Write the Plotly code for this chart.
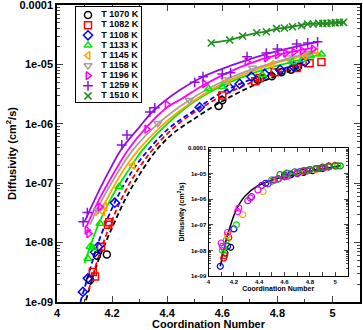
import plotly.graph_objs as go

# ---- main panel: measured points (coordination number, diffusivity cm^2/s)
x_1070 = [4.12, 4.145, 4.181, 4.587, 4.60, 4.728, 4.78, 4.815, 4.85, 4.875]
y_1070 = [2.34e-9, 6.0e-9, 6.3e-9, 2.0e-6, 2.5e-6, 5.5e-6, 6.3e-6, 7.4e-6, 8.1e-6, 9.1e-6]
x_1082 = [4.13, 4.138, 4.16, 4.185, 4.19, 4.60, 4.72, 4.736, 4.79, 4.87, 4.917, 4.96]
y_1082 = [3.2e-9, 2.7e-9, 8.5e-9, 2.0e-8, 2.2e-8, 3.0e-6, 5.2e-6, 5.9e-6, 7.4e-6, 8.7e-6, 1.05e-5, 1.1e-5]
x_1108 = [4.094, 4.112, 4.138, 4.149, 4.21, 4.518, 4.627, 4.663, 4.706, 4.754, 4.81, 4.86, 4.90]
y_1108 = [1.48e-9, 2.5e-9, 6.9e-9, 8.5e-9, 4.7e-8, 1.9e-6, 4.0e-6, 4.7e-6, 6.2e-6, 6.9e-6, 8.1e-6, 9.1e-6, 1.1e-5]
x_1133 = [4.112, 4.12, 4.13, 4.156, 4.225, 4.55, 4.60, 4.746, 4.855, 4.89, 4.92, 4.96]
y_1133 = [5.4e-9, 8.5e-9, 8.1e-9, 2.1e-8, 8.7e-8, 3.9e-6, 4.2e-6, 6.6e-6, 1.1e-5, 1.2e-5, 1.38e-5, 1.48e-5]
x_1145 = [4.167, 4.175, 4.275, 4.62, 4.78, 4.9, 4.94]
y_1145 = [3.3e-8, 4.0e-8, 2.0e-7, 5.2e-6, 1.0e-5, 1.41e-5, 1.66e-5]
x_1158 = [4.149, 4.366, 4.48, 4.61, 4.71, 4.84, 4.917]
y_1158 = [3.55e-8, 1.02e-6, 2.5e-6, 5.5e-6, 8.7e-6, 1.29e-5, 1.55e-5]
x_1196 = [4.109, 4.115, 4.156, 4.326, 4.40, 4.536, 4.69, 4.76, 4.80, 4.83, 4.86, 4.89, 4.93]
y_1196 = [1.62e-8, 1.41e-8, 4.0e-8, 8.1e-7, 2.1e-6, 4.7e-6, 1.1e-5, 1.29e-5, 1.45e-5, 1.55e-5, 1.62e-5, 1.7e-5, 1.82e-5]
x_1259 = [4.095, 4.11, 4.235, 4.254, 4.337, 4.355, 4.50, 4.53, 4.60, 4.63, 4.69, 4.76, 4.80, 4.87, 4.91, 4.946]
y_1259 = [2.24e-8, 3.2e-8, 4.4e-7, 6.5e-7, 1.58e-6, 1.86e-6, 5.0e-6, 6.2e-6, 6.9e-6, 7.2e-6, 1.35e-5, 1.55e-5, 1.82e-5, 2.2e-5, 2.3e-5, 2.4e-5]
x_1510 = [4.56, 4.627, 4.674, 4.725, 4.76, 4.797, 4.826, 4.855, 4.888, 4.91, 4.93, 4.95, 4.965, 4.98, 4.995, 5.01, 5.025, 5.04]
y_1510 = [2.3e-5, 2.57e-5, 3.0e-5, 3.4e-5, 3.55e-5, 4.0e-5, 4.1e-5, 4.3e-5, 4.5e-5, 4.8e-5, 4.8e-5, 4.9e-5, 4.9e-5, 4.9e-5, 5.0e-5, 5.0e-5, 5.1e-5, 5.1e-5]

# ---- fitted curves
fx_1070 = [4.105, 4.15, 4.2, 4.25, 4.3, 4.36, 4.42, 4.49, 4.6, 4.73, 4.88]
fy_1070 = [1.07e-9, 5.0e-9, 1.78e-8, 5.6e-8, 1.41e-7, 3.55e-7, 6.8e-7, 1.15e-6, 2.4e-6, 4.8e-6, 8.9e-6]
fx_1082 = [4.115, 4.15, 4.2, 4.25, 4.3, 4.35, 4.42, 4.5, 4.6, 4.74, 4.9]
fy_1082 = [1.58e-9, 5.6e-9, 2.4e-8, 7.6e-8, 1.86e-7, 3.8e-7, 8.3e-7, 1.58e-6, 2.95e-6, 5.75e-6, 1.0e-5]
fx_1108 = [4.085, 4.12, 4.15, 4.2, 4.25, 4.3, 4.4, 4.5, 4.6, 4.7, 4.8, 4.9]
fy_1108 = [1.0e-9, 3.55e-9, 1.0e-8, 3.8e-8, 1.07e-7, 2.4e-7, 7.9e-7, 1.7e-6, 3.4e-6, 5.5e-6, 7.9e-6, 1.1e-5]
fx_1133 = [4.10, 4.15, 4.2, 4.25, 4.31, 4.4, 4.5, 4.6, 4.7, 4.8, 4.9, 4.96]
fy_1133 = [4.5e-9, 2.0e-8, 6.0e-8, 1.41e-7, 3.6e-7, 1.0e-6, 2.4e-6, 4.4e-6, 6.8e-6, 9.5e-6, 1.26e-5, 1.48e-5]
fx_1145 = [4.14, 4.18, 4.2, 4.25, 4.295, 4.4, 4.5, 4.6, 4.7, 4.8, 4.9, 4.95]
fy_1145 = [2.8e-8, 5.2e-8, 7.9e-8, 1.9e-7, 3.6e-7, 1.12e-6, 2.5e-6, 4.7e-6, 7.4e-6, 1.07e-5, 1.41e-5, 1.58e-5]
fx_1158 = [4.12, 4.15, 4.2, 4.275, 4.366, 4.48, 4.61, 4.71, 4.84, 4.92]
fy_1158 = [2.0e-8, 4.0e-8, 1.05e-7, 3.6e-7, 1.0e-6, 2.5e-6, 5.4e-6, 8.3e-6, 1.26e-5, 1.58e-5]
fx_1196 = [4.105, 4.15, 4.2, 4.257, 4.326, 4.4, 4.45, 4.536, 4.69, 4.8, 4.93]
fy_1196 = [1.78e-8, 5.0e-8, 1.32e-7, 3.6e-7, 8.9e-7, 1.9e-6, 2.6e-6, 4.6e-6, 1.0e-5, 1.45e-5, 1.9e-5]
fx_1259 = [4.1, 4.15, 4.2, 4.235, 4.3, 4.35, 4.446, 4.53, 4.63, 4.75, 4.87, 4.95]
fy_1259 = [2.24e-8, 7.1e-8, 2.0e-7, 3.8e-7, 8.9e-7, 1.66e-6, 3.7e-6, 6.2e-6, 9.5e-6, 1.45e-5, 2.0e-5, 2.4e-5]

# ---- inset: all temperatures collapsed on one master curve
master_x = [4.093, 4.14, 4.18, 4.22, 4.286, 4.38, 4.51, 4.67, 4.83, 5.04]
master_y = [2.4e-9, 2.6e-8, 1.17e-7, 3.9e-7, 1.29e-6, 3.2e-6, 5.75e-6, 9.1e-6, 1.35e-5, 2.04e-5]
ins_x_black = [4.13, 4.175, 4.55, 4.65, 4.75, 4.82, 4.9]
ins_y_black = [7.9e-9, 1.32e-8, 6.3e-6, 9.0e-6, 1.12e-5, 1.3e-5, 1.58e-5]
ins_x_red = [4.12, 4.127, 4.16, 4.6, 4.75, 4.8, 4.85, 4.9, 4.95, 5.0]
ins_y_red = [5.0e-9, 6.3e-9, 3.2e-8, 7.9e-6, 1.26e-5, 1.45e-5, 1.55e-5, 1.78e-5, 2.0e-5, 2.1e-5]
ins_x_blue = [4.093, 4.15, 4.2, 4.45, 4.5, 4.6, 4.65, 4.72, 4.78, 4.85, 4.95]
ins_y_blue = [2.4e-9, 1.45e-8, 6.9e-8, 4.2e-6, 5.6e-6, 8.9e-6, 9.5e-6, 1.17e-5, 1.3e-5, 1.58e-5, 1.8e-5]
ins_x_green = [4.11, 4.12, 4.14, 4.22, 4.5, 4.55, 4.62, 4.7, 4.8, 4.88, 4.95, 5.02]
ins_y_green = [1.0e-8, 1.26e-8, 2.5e-8, 1.0e-7, 5.0e-6, 6.0e-6, 1.0e-5, 1.1e-5, 1.41e-5, 1.6e-5, 1.9e-5, 2.0e-5]
ins_x_orange = [4.15, 4.27, 4.43, 4.5, 4.62, 4.72, 4.85, 4.95]
ins_y_orange = [4.0e-8, 2.5e-7, 2.0e-6, 5.5e-6, 7.9e-6, 1.1e-5, 1.41e-5, 1.8e-5]
ins_x_magenta = [4.10, 4.11, 4.15, 4.23, 4.24, 4.33, 4.39, 4.55, 4.62, 4.7, 4.78, 4.85, 4.92]
ins_y_magenta = [1.95e-8, 1.45e-8, 5.0e-8, 3.3e-7, 4.5e-7, 1.12e-6, 2.3e-6, 6.3e-6, 8.0e-6, 1.12e-5, 1.3e-5, 1.58e-5, 1.75e-5]
ins_x_purple = [4.31, 4.34, 4.42, 4.47, 4.52, 4.6, 4.7, 4.78, 4.88, 4.95]
ins_y_purple = [8.7e-7, 1.26e-6, 3.5e-6, 4.0e-6, 5.6e-6, 7.5e-6, 1.0e-5, 1.3e-5, 1.58e-5, 1.9e-5]
ins_x_dkgreen = [4.564, 4.62, 4.68, 4.75, 4.8, 4.85, 4.9, 4.95, 5.0, 5.04]
ins_y_dkgreen = [9.1e-6, 1.05e-5, 1.17e-5, 1.32e-5, 1.45e-5, 1.58e-5, 1.74e-5, 1.86e-5, 1.95e-5, 2.0e-5]

labels = ["T 1070 K", "T 1082 K", "T 1108 K", "T 1133 K", "T 1145 K",
          "T 1158 K", "T 1196 K", "T 1259 K", "T 1510 K"]
colors = ["#000000", "#ff0000", "#0000ff", "#00e800", "#ffa500",
          "#b09c96", "#ff00ff", "#9010e0", "#1e8c1e"]
symbols = ["circle-open", "square-open", "diamond-open", "triangle-up-open",
           "triangle-left-open", "triangle-down-open", "triangle-right-open",
           "cross-thin-open", "x-thin-open"]
dashes = ["5px,3px", "5px,3px", "5px,3px", "solid", "solid",
          "solid", "solid", "solid", None]

yticks = [1e-9, 1e-8, 1e-7, 1e-6, 1e-5, 1e-4]
ytick_text = ["1e-09", "1e-08", "1e-07", "1e-06", "1e-05", "0.0001"]
xticks = [4, 4.2, 4.4, 4.6, 4.8, 5]
xminor = [4.1, 4.3, 4.5, 4.7, 4.9, 5.1]
yminor = [m * 10.0 ** e for e in range(-9, -4) for m in range(2, 10)]

pts_x = [x_1070, x_1082, x_1108, x_1133, x_1145, x_1158, x_1196, x_1259, x_1510]
pts_y = [y_1070, y_1082, y_1108, y_1133, y_1145, y_1158, y_1196, y_1259, y_1510]
fit_x = [fx_1070, fx_1082, fx_1108, fx_1133, fx_1145, fx_1158, fx_1196, fx_1259, x_1510]
fit_y = [fy_1070, fy_1082, fy_1108, fy_1133, fy_1145, fy_1158, fy_1196, fy_1259, y_1510]

BOLD = dict(family="Liberation Sans, Arial", color="black", weight="bold")

fig = go.Figure()

for i in range(len(labels)):
    shape = "linear" if dashes[i] is None else "spline"
    fig.add_trace(go.Scatter(
        x=fit_x[i], y=fit_y[i], mode="lines",
        line=dict(color=colors[i], width=1.8, dash=dashes[i] or "solid", shape=shape),
        hoverinfo="skip"
    ))
for i in range(len(labels)):
    fig.add_trace(go.Scatter(
        x=pts_x[i], y=pts_y[i], mode="markers", name=labels[i],
        marker=dict(symbol=symbols[i], size=7, color=colors[i],
                    line=dict(color=colors[i], width=1.5))
    ))

# inset
fig.add_trace(go.Scatter(x=master_x, y=master_y, mode="lines", xaxis="x2", yaxis="y2",
                         line=dict(color="black", width=1.5, shape="spline")))
inset_sets = [
    (ins_x_black, ins_y_black, "#000000"),
    (ins_x_red, ins_y_red, "#ff0000"),
    (ins_x_blue, ins_y_blue, "#0000ff"),
    (ins_x_green, ins_y_green, "#00e800"),
    (ins_x_orange, ins_y_orange, "#ffa500"),
    (ins_x_purple, ins_y_purple, "#9010e0"),
    (ins_x_magenta, ins_y_magenta, "#ff00ff"),
    (ins_x_dkgreen, ins_y_dkgreen, "#1e8c1e"),
]
for xs, ys, c in inset_sets:
    fig.add_trace(go.Scatter(x=xs, y=ys, mode="markers", xaxis="x2", yaxis="y2",
                             marker=dict(symbol="circle-open", size=6, color=c,
                                         line=dict(color=c, width=1.2))))

# hand-made legend box (plotly's legend rows are too tall for this spacing)
leg_y = [0.916 - 0.1063 * i for i in range(len(labels))]
for i in range(len(labels)):
    fig.add_trace(go.Scatter(
        x=[0.185], y=[leg_y[i]], mode="markers", xaxis="x3", yaxis="y3",
        marker=dict(symbol=symbols[i], size=7, color=colors[i],
                    line=dict(color=colors[i], width=1.5))))
fig.add_trace(go.Scatter(
    x=[0.39] * len(labels), y=leg_y, mode="text", xaxis="x3", yaxis="y3",
    text=labels, textposition="middle right",
    textfont=dict(size=9, **BOLD)))

axis_common = dict(showline=True, linecolor="black", mirror="allticks",
                   ticks="inside", showgrid=False, zeroline=False, automargin=False,
                   ticklabeloverflow="allow")

fig.update_layout(
    width=363, height=330,
    margin=dict(l=57, r=3, t=5, b=28, autoexpand=False),
    paper_bgcolor="white", plot_bgcolor="white",
    showlegend=False,
    font=dict(size=11, **BOLD),
    xaxis=dict(range=[4, 5.1], tickvals=xticks, ticklen=6, linewidth=1.5,
               tickfont=dict(size=11, **BOLD),
               minor=dict(tickvals=xminor, ticks="inside", ticklen=3),
               title=dict(text="Coordination Number", font=dict(size=11, **BOLD), standoff=2),
               **axis_common),
    yaxis=dict(type="log", range=[-9, -4], tickvals=yticks, ticktext=ytick_text,
               ticklen=6, linewidth=1.5, tickfont=dict(size=11, **BOLD),
               minor=dict(tickvals=yminor, ticks="inside", ticklen=3),
               title=dict(text="Diffusivity (cm<sup>2</sup>/s)", font=dict(size=11, **BOLD), standoff=1),
               **axis_common),
    xaxis2=dict(domain=[0.5, 0.96], anchor="y2", range=[4, 5.1], tickvals=xticks,
                ticklen=4, linewidth=1, tickfont=dict(size=6, **BOLD),
                minor=dict(tickvals=xminor, ticks="inside", ticklen=4),
                title=dict(text="Coordination Number", font=dict(size=7, **BOLD), standoff=1),
                **axis_common),
    yaxis2=dict(domain=[0.0875, 0.5185], anchor="x2", type="log", range=[-9, -4],
                tickvals=yticks, ticktext=ytick_text, ticklen=4, linewidth=1,
                tickfont=dict(size=6, **BOLD),
                minor=dict(tickvals=yminor, ticks="inside", ticklen=2),
                title=dict(text="Diffusivity (cm<sup>2</sup>/s)", font=dict(size=7, **BOLD), standoff=2),
                **axis_common),
    xaxis3=dict(domain=[0.0627, 0.277], anchor="y3", range=[0, 1], showline=True,
                linecolor="black", linewidth=1, mirror=True, ticks="",
                showticklabels=False, showgrid=False, zeroline=False),
    yaxis3=dict(domain=[0.673, 0.993], anchor="x3", range=[0, 1], showline=True,
                linecolor="black", linewidth=1, mirror=True, ticks="",
                showticklabels=False, showgrid=False, zeroline=False),
)

# the page's default body margin would shift the figure by 8px
fig.write_html("out.html", config={"displayModeBar": False},
               post_script="document.body.style.margin='0';")
